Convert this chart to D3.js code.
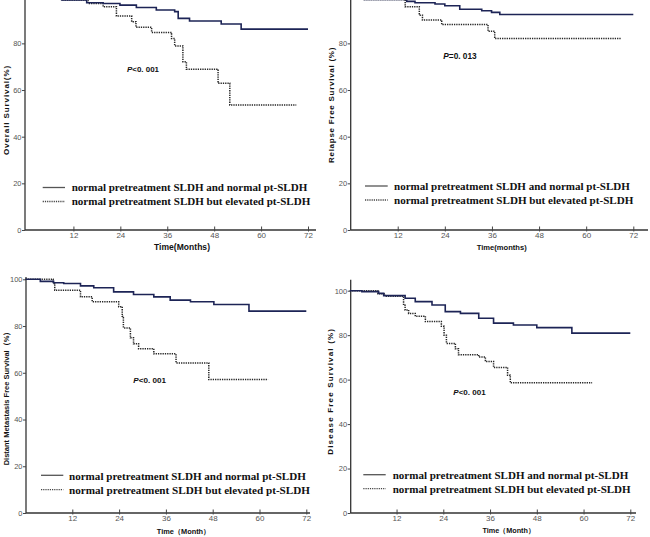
<!DOCTYPE html>
<html><head><meta charset="utf-8">
<script src="https://cdn.jsdelivr.net/npm/d3@7"></script>
<style>body{margin:0;background:#fff}svg{display:block}</style>
</head><body>
<svg id="c" width="650" height="537"></svg>
<script>
// ---- data (time in months, survival %) ----
const xTicks = [12, 24, 36, 48, 60, 72];
const yTicks = [0, 20, 40, 60, 80, 100];
const legendLabels = ["normal pretreatment SLDH and normal pt-SLDH", "normal pretreatment SLDH but elevated pt-SLDH"];

const osNormal = [[0,100],[9,98.6],[15.4,97.4],[19.6,97.1],[23.9,96.4],[28.1,95.4],[33.2,94.3],[37.9,93.6],[38.8,90.7],[41.7,89.6],[49.8,88.3],[54.9,86.1],[72,86.1]];
const osElevated = [[0,100],[9,98.6],[15.8,97.1],[19.6,95.7],[23,91.7],[26.9,89.3],[28,86.9],[32,84.7],[37.1,82.1],[37.9,78.9],[40,72.1],[40.9,68.9],[49,62.9],[52,53.6],[69,53.6]];

const rfsNormal = [[0,100],[3.5,98.8],[14.3,98.0],[16.4,97.4],[21.5,96.9],[24,96.1],[27.8,94.6],[33.4,94.0],[35.9,93.3],[38,92.4],[72,92.4]];
const rfsElevated = [[0,100],[3.5,98.8],[13.9,95.7],[17.5,92.1],[18.3,90.0],[23.2,88.1],[35,85.2],[36.7,82.1],[69,82.1]];

const dmfsNormal = [[0,100],[3.8,99.1],[7.2,98.5],[9.8,98.2],[14.1,97.2],[17.5,96.4],[22.6,94.6],[27.7,93.5],[32.9,92.5],[37.1,91.1],[42.3,90.4],[48.3,89.2],[57.3,86.4],[72,86.4]];
const dmfsElevated = [[0,100],[7.1,98.2],[7.5,95.3],[14.1,92.5],[17.1,90.4],[23.9,88.3],[24.8,84.2],[25.1,79.2],[26.9,75.0],[27.7,72.4],[29,70.3],[32.9,68.1],[38.6,64.2],[47,57.1],[62.2,57.1]];

const dfsNormal = [[0,100],[3.1,99.6],[7.4,98.8],[8.7,97.8],[14.2,96.6],[16.8,95.1],[21.1,93.6],[24.5,90.6],[28.4,89.8],[33.1,87.6],[36.9,85.4],[42,84.6],[48,83.4],[57,80.9],[72,80.9]];
const dfsElevated = [[0,100],[7.2,98.6],[9,97.5],[13.8,93.5],[14.2,91.3],[15.1,89.8],[16.8,88.5],[19.4,86.1],[23.5,84.0],[24.2,80.0],[24.8,76.3],[27.1,73.9],[27.9,71.2],[33.1,70.2],[34.8,68.2],[36.9,65.5],[40.5,62.0],[41.2,58.6],[62.2,58.6]];

const yTitles = ["Overall Survival(%)", "Relapse Free Survival (%)", "Distant Metastasis Free Survival（%）", "Disease Free Survival (%)"];
const xTitles = ["Time(Months)", "Time(months)", "Time（Month）", "Time（Month）"];
const pTexts = [["P", "<0. 001"], ["P", "=0. 013"], ["P", "<0. 001"], ["P", "<0. 001"]];

// ---- layout ----
const panels = [
  {normal: osNormal, elev: osElevated, x0: 26.5, x72: 308, y0: 230, y100: -3.3, axL: 25, axR: 316, axTop: 0,
   yt: [8.5, 110, 90, 8], xt: [182, 250, 56, 8.5], pt: [127, 72, 32], lg: {lx: 42.7, lx2: 65, tx: 71.7, w1: 235.6, w2: 239, b1: 190.5, b2: 205, l1: 187.5, l2: 201.5}},
  {normal: rfsNormal, elev: rfsElevated, x0: 350.6, x72: 633.3, y0: 230, y100: -3.3, axL: 350.7, axR: 648, axTop: 0,
   yt: [333.5, 105, 116, 8], xt: [501.7, 249.5, 50, 8.5], pt: [443.3, 58.7, 33.4], lg: {lx: 365, lx2: 387.7, tx: 394, w1: 236, w2: 239.3, b1: 189.5, b2: 204, l1: 186, l2: 200}},
  {normal: dmfsNormal, elev: dmfsElevated, x0: 25.5, x72: 306.3, y0: 513, y100: 279.3, axL: 26, axR: 310, axTop: 277,
   yt: [8.5, 396.5, 137, 8], xt: [183.5, 534, 55, 8.5], pt: [133.3, 383.3, 32.7], lg: {lx: 41, lx2: 63.3, tx: 69, w1: 237, w2: 241, b1: 479.5, b2: 494, l1: 475.3, l2: 489.7}},
  {normal: dfsNormal, elev: dfsElevated, x0: 349.8, x72: 630.3, y0: 513, y100: 290.7, axL: 350.7, axR: 636, axTop: 279.7,
   yt: [333, 391.3, 127, 8], xt: [508.7, 533, 54, 8.5], pt: [453.3, 395.3, 32.4], lg: {lx: 363.3, lx2: 385.7, tx: 392.7, w1: 235.6, w2: 238.3, b1: 478.5, b2: 492.5, l1: 474.7, l2: 488.7}}
];

const svg = d3.select("#c");
const solidColor = "#1d2456";
const dotColor = "#262626";

// fit a text to a target width: shrink the font if too wide, otherwise add letter spacing
function fit(sel, target, size) {
  sel.attr("font-size", size);
  const w = sel.node().getComputedTextLength();
  const n = sel.text().length;
  if (w > target) {
    sel.attr("font-size", (size * target / w).toFixed(2));
  } else if (n > 1) {
    sel.attr("letter-spacing", ((target - w) / n).toFixed(2));
  }
}

panels.forEach((p, i) => {
  const x = d3.scaleLinear().domain([0, 72]).range([p.x0, p.x72]);
  const y = d3.scaleLinear().domain([0, 100]).range([p.y0, p.y100]);
  const g = svg.append("g");

  // axes lines
  g.append("line").attr("x1", p.axL).attr("x2", p.axL).attr("y1", p.axTop).attr("y2", p.y0)
    .attr("stroke", "#333").attr("stroke-width", 1.3);
  g.append("line").attr("x1", p.axL).attr("x2", p.axR).attr("y1", p.y0).attr("y2", p.y0)
    .attr("stroke", "#333").attr("stroke-width", 1.3);

  // x axis ticks
  const xa = d3.axisBottom(x).tickValues(xTicks).tickSizeInner(-4).tickSizeOuter(0).tickPadding(2.5);
  const gx = g.append("g").attr("transform", `translate(0,${p.y0})`).call(xa);
  gx.select(".domain").remove();
  gx.selectAll("line").attr("stroke", "#444").attr("stroke-width", 1).attr("y2", -3.5).attr("y1", 1.5);
  gx.selectAll("text").attr("font-family", "Liberation Sans, Arial, sans-serif").attr("font-size", 8).attr("fill", "#555");

  // y axis ticks
  const vis = yTicks.filter(v => y(v) >= 2);
  const ya = d3.axisLeft(y).tickValues(vis).tickSizeInner(3).tickSizeOuter(0).tickPadding(0.5);
  const gy = g.append("g").attr("transform", `translate(${p.axL},0)`).call(ya);
  gy.select(".domain").remove();
  gy.selectAll("line").attr("stroke", "#444").attr("stroke-width", 1);
  gy.selectAll("text").attr("font-family", "Liberation Sans, Arial, sans-serif").attr("font-size", 7.5).attr("fill", "#555");

  // curves
  const line = d3.line().x(d => x(d[0])).y(d => y(d[1])).curve(d3.curveStepAfter);
  g.append("path").datum(p.elev).attr("d", line).attr("fill", "none")
    .attr("stroke", dotColor).attr("stroke-width", 1.5).attr("stroke-dasharray", "1.3,1");
  g.append("path").datum(p.normal).attr("d", line).attr("fill", "none")
    .attr("stroke", solidColor).attr("stroke-width", 1.6);

  // p value text
  const pt = g.append("text").attr("x", p.pt[0]).attr("y", p.pt[1])
    .attr("font-family", "Liberation Sans, Arial, sans-serif").attr("font-weight", "bold")
    .attr("fill", "#111");
  pt.append("tspan").attr("font-style", "italic").text(pTexts[i][0]);
  pt.append("tspan").text(pTexts[i][1]);
  fit(pt, p.pt[2], 10.5);

  // legend
  const L = p.lg;
  g.append("line").attr("x1", L.lx).attr("x2", L.lx2).attr("y1", L.l1).attr("y2", L.l1)
    .attr("stroke", "#555").attr("stroke-width", 1.3);
  g.append("line").attr("x1", L.lx).attr("x2", L.lx2).attr("y1", L.l2).attr("y2", L.l2)
    .attr("stroke", "#444").attr("stroke-width", 1.3).attr("stroke-dasharray", "1.2,1");
  [[L.b1, L.w1, 0], [L.b2, L.w2, 1]].forEach(([b, w, k]) => {
    const t = g.append("text").attr("x", L.tx).attr("y", b)
      .attr("font-family", "Liberation Serif, Times New Roman, serif").attr("font-weight", "bold")
      .attr("fill", "#111").text(legendLabels[k]);
    fit(t, w, 13);
  });

  // axis titles
  const yt = g.append("text").attr("transform", `translate(${p.yt[0]},${p.yt[1]}) rotate(-90)`).attr("text-anchor", "middle")
    .attr("font-family", "Liberation Sans, Arial, sans-serif").attr("font-weight", "bold")
    .attr("fill", "#111").text(yTitles[i]);
  fit(yt, p.yt[2], p.yt[3]);
  const xt = g.append("text").attr("x", p.xt[0]).attr("y", p.xt[1]).attr("text-anchor", "middle")
    .attr("font-family", "Liberation Sans, Arial, sans-serif").attr("font-weight", "bold")
    .attr("fill", "#111").text(xTitles[i]);
  fit(xt, p.xt[2], p.xt[3]);
});
</script>
</body></html>
